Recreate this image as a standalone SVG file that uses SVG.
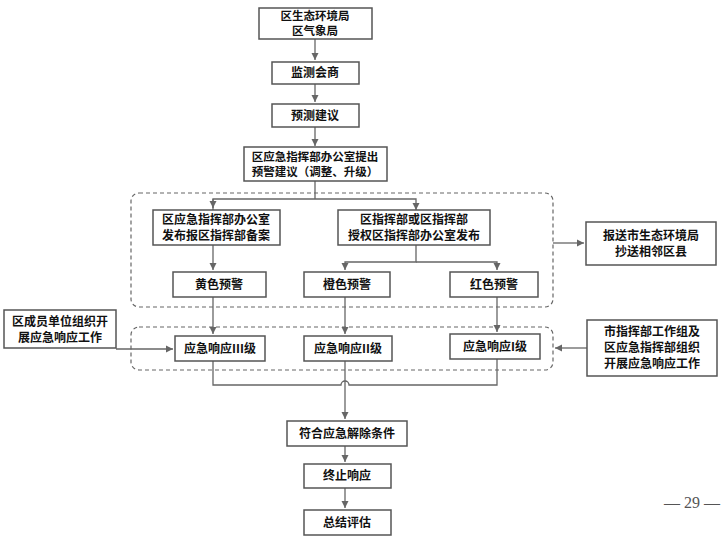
<svg xmlns="http://www.w3.org/2000/svg" width="724" height="536" viewBox="0 0 724 536">
<style>
.b{fill:#fff;stroke:#555;stroke-width:1.5}
.t{font-family:"Noto Sans CJK SC","Noto Sans CJK JP",serif;font-size:12px;font-weight:bold;fill:#111;text-anchor:middle}
.s{font-size:11.5px}
.c{fill:none;stroke:#666;stroke-width:1.3}
.d{fill:none;stroke:#666;stroke-width:1.2;stroke-dasharray:4 3}
</style>
<defs><marker id="a" markerWidth="8" markerHeight="8" refX="7" refY="4" orient="auto" markerUnits="userSpaceOnUse"><path d="M0,0.5 L7,4 L0,7.5z" fill="#666"/></marker></defs>
<g id="groups"><rect class="d" x="131" y="193" width="422" height="114" rx="8"/><rect class="d" x="131" y="327" width="422" height="43" rx="8"/></g>
<g id="connectors">
<path class="c" d="M315,39V60" marker-end="url(#a)"/>
<path class="c" d="M315,84V102" marker-end="url(#a)"/>
<path class="c" d="M315,127V146" marker-end="url(#a)"/>
<path class="c" d="M315,181V199M213,210V199H416V210" marker-end="url(#a)"/>
<path class="c" d="M213,199V208" marker-end="url(#a)"/>
<path class="c" d="M213,245V270" marker-end="url(#a)"/>
<path class="c" d="M416,245V262H345V270" marker-end="url(#a)"/>
<path class="c" d="M416,262H497V270" marker-end="url(#a)"/>
<path class="c" d="M553,243H584" marker-end="url(#a)"/>
<path class="c" d="M213,297V334" marker-end="url(#a)"/>
<path class="c" d="M345,297V334" marker-end="url(#a)"/>
<path class="c" d="M497,297V332" marker-end="url(#a)"/>
<path class="c" d="M116,349H173" marker-end="url(#a)"/>
<path class="c" d="M587,348H555" marker-end="url(#a)"/>
<path class="c" d="M213,361V385H341A4,4 0 0 1 349,385H497V359"/>
<path class="c" d="M345,361V419" marker-end="url(#a)"/>
<path class="c" d="M345,446V462" marker-end="url(#a)"/>
<path class="c" d="M345,488V508" marker-end="url(#a)"/>
</g>
<g id="n1"><rect class="b" x="259" y="8" width="113" height="31"/><text class="t s" x="315" y="20">区生态环境局</text><text class="t s" x="315" y="35">区气象局</text></g>
<g id="n2"><rect class="b" x="272" y="62" width="87" height="22"/><text class="t" x="315" y="77">监测会商</text></g>
<g id="n3"><rect class="b" x="272" y="104" width="87" height="23"/><text class="t" x="315" y="120">预测建议</text></g>
<g id="n4"><rect class="b" x="244" y="147" width="143" height="34"/><text class="t s" x="315" y="161">区应急指挥部办公室提出</text><text class="t s" x="315" y="176">预警建议（调整、升级）</text></g>
<g id="n5"><rect class="b" x="153" y="210" width="127" height="35"/><text class="t" x="216" y="224">区应急指挥部办公室</text><text class="t" x="216" y="240">发布报区指挥部备案</text></g>
<g id="n6"><rect class="b" x="338" y="210" width="152" height="35"/><text class="t" x="414" y="224">区指挥部或区指挥部</text><text class="t" x="414" y="240">授权区指挥部办公室发布</text></g>
<g id="n7"><rect class="b" x="586" y="222" width="130" height="43"/><text class="t" x="651" y="240">报送市生态环境局</text><text class="t" x="651" y="256">抄送相邻区县</text></g>
<g id="n8"><rect class="b" x="173" y="272" width="93" height="25"/><text class="t" x="219" y="289">黄色预警</text></g>
<g id="n9"><rect class="b" x="304" y="272" width="86" height="25"/><text class="t" x="347" y="289">橙色预警</text></g>
<g id="n10"><rect class="b" x="450" y="272" width="88" height="25"/><text class="t" x="494" y="289">红色预警</text></g>
<g id="n11"><rect class="b" x="4" y="310" width="112" height="38"/><text class="t" x="60" y="326">区成员单位组织开</text><text class="t" x="60" y="342">展应急响应工作</text></g>
<g id="n12"><rect class="b" x="175" y="336" width="90" height="25"/><text class="t" x="220" y="353">应急响应III级</text></g>
<g id="n13"><rect class="b" x="304" y="336" width="88" height="25"/><text class="t" x="348" y="353">应急响应II级</text></g>
<g id="n14"><rect class="b" x="450" y="334" width="90" height="25"/><text class="t" x="495" y="351">应急响应I级</text></g>
<g id="n15"><rect class="b" x="587" y="320" width="130" height="56"/><text class="t" x="652" y="336">市指挥部工作组及</text><text class="t" x="652" y="352">区应急指挥部组织</text><text class="t" x="652" y="368">开展应急响应工作</text></g>
<g id="n16"><rect class="b" x="287" y="421" width="120" height="25"/><text class="t" x="347" y="438">符合应急解除条件</text></g>
<g id="n17"><rect class="b" x="304" y="464" width="87" height="24"/><text class="t" x="347" y="480">终止响应</text></g>
<g id="n18"><rect class="b" x="304" y="510" width="87" height="25"/><text class="t" x="347" y="527">总结评估</text></g>
<text x="692" y="508" style="font-family:'Liberation Serif',serif;font-size:16px;fill:#555;text-anchor:middle">— 29 —</text>
</svg>
